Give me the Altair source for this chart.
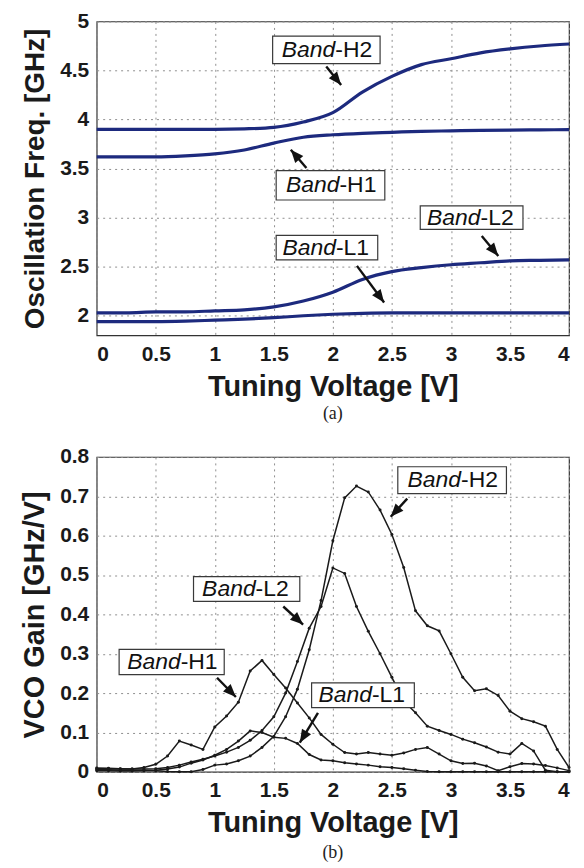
import math
import altair as alt
import pandas as pd

# ---------------- data: (a) oscillation frequency ----------------
voltage_a = [0.0, 0.25, 0.5, 0.75, 1.0, 1.25, 1.5, 1.75, 2.0, 2.25, 2.5, 2.75, 3.0, 3.25, 3.5, 3.75, 4.0]
freq_h2 = [3.90, 3.90, 3.90, 3.90, 3.90, 3.905, 3.92, 3.975, 4.07, 4.28, 4.44, 4.56, 4.62, 4.68, 4.72, 4.75, 4.77]
freq_h1 = [3.62, 3.62, 3.62, 3.63, 3.65, 3.69, 3.76, 3.82, 3.845, 3.86, 3.87, 3.88, 3.885, 3.89, 3.893, 3.895, 3.897]
freq_l2 = [2.03, 2.03, 2.04, 2.04, 2.05, 2.06, 2.09, 2.15, 2.24, 2.37, 2.45, 2.49, 2.52, 2.54, 2.56, 2.565, 2.57]
freq_l1 = [1.94, 1.94, 1.94, 1.945, 1.955, 1.965, 1.98, 2.00, 2.015, 2.025, 2.03, 2.03, 2.03, 2.03, 2.03, 2.03, 2.03]

# ---------------- data: (b) VCO gain ----------------
voltage_b = [0.0, 0.1, 0.2, 0.3, 0.4, 0.5, 0.6, 0.7, 0.8, 0.9, 1.0, 1.1, 1.2, 1.3, 1.4, 1.5, 1.6, 1.7, 1.8, 1.9,
             2.0, 2.1, 2.2, 2.3, 2.4, 2.5, 2.6, 2.7, 2.8, 2.9, 3.0, 3.1, 3.2, 3.3, 3.4, 3.5, 3.6, 3.7, 3.8, 3.9, 4.0]
gain_h1 = [0.008, 0.008, 0.007, 0.007, 0.011, 0.019, 0.040, 0.078, 0.068, 0.057, 0.114, 0.142, 0.177, 0.256, 0.283,
           0.247, 0.213, 0.175, 0.137, 0.095, 0.070, 0.049, 0.045, 0.049, 0.045, 0.042, 0.048, 0.057, 0.062, 0.045,
           0.028, 0.021, 0.022, 0.015, 0.003, 0.013, 0.021, 0.020, 0.016, 0.010, 0.003]
gain_l1 = [0.003, 0.003, 0.002, 0.002, 0.003, 0.004, 0.007, 0.012, 0.022, 0.030, 0.042, 0.057, 0.078, 0.104, 0.100,
           0.088, 0.085, 0.072, 0.044, 0.030, 0.028, 0.023, 0.020, 0.017, 0.013, 0.011, 0.008, 0.004, 0.001, 0.0,
           0.0, 0.0, 0.0, 0.0, 0.0, 0.0, 0.0, 0.0, 0.0, 0.0, 0.0]
gain_l2 = [0.010, 0.009, 0.008, 0.007, 0.007, 0.008, 0.011, 0.017, 0.025, 0.032, 0.040, 0.050, 0.062, 0.080, 0.105,
           0.140, 0.200, 0.280, 0.365, 0.420, 0.518, 0.504, 0.420, 0.357, 0.300, 0.240, 0.180, 0.150, 0.116, 0.105,
           0.095, 0.083, 0.074, 0.063, 0.050, 0.045, 0.072, 0.053, 0.004, 0.0, 0.0]
gain_h2 = [0.005, 0.005, 0.004, 0.004, 0.004, 0.003, 0.001, 0.0, 0.0, 0.006, 0.017, 0.020, 0.028, 0.040, 0.062,
           0.090, 0.140, 0.210, 0.310, 0.435, 0.587, 0.696, 0.726, 0.711, 0.665, 0.603, 0.519, 0.409, 0.371, 0.358,
           0.300, 0.240, 0.206, 0.211, 0.194, 0.154, 0.135, 0.127, 0.116, 0.057, 0.011]

# ---------------- ticks ----------------
x_ticks = [0, 0.5, 1, 1.5, 2, 2.5, 3, 3.5, 4]
ya_ticks = [2, 2.5, 3, 3.5, 4, 4.5, 5]
yb_ticks = [0, 0.1, 0.2, 0.3, 0.4, 0.5, 0.6, 0.7, 0.8]

# ---------------- annotations (data units) ----------------
ann_a_label = ["-H2", "-H1", "-L1", "-L2"]
ann_a_box_x0 = [1.49, 1.52, 1.52, 2.74]
ann_a_box_x1 = [2.40, 2.44, 2.38, 3.61]
ann_a_box_y0 = [4.57, 3.18, 2.57, 2.88]
ann_a_box_y1 = [4.85, 3.48, 2.82, 3.12]
ann_a_arrow_x0 = [1.944, 1.776, 2.204, 3.261]
ann_a_arrow_y0 = [4.540, 3.507, 2.508, 2.813]
ann_a_arrow_x1 = [2.070, 1.644, 2.434, 3.401]
ann_a_arrow_y1 = [4.353, 3.693, 2.135, 2.610]

ann_b_label = ["-H2", "-L2", "-H1", "-L1"]
ann_b_box_x0 = [2.55, 0.82, 0.19, 1.82]
ann_b_box_x1 = [3.47, 1.72, 1.08, 2.69]
ann_b_box_y0 = [0.707, 0.433, 0.247, 0.163]
ann_b_box_y1 = [0.775, 0.496, 0.311, 0.226]
ann_b_arrow_x0 = [2.630, 1.580, 1.019, 1.874]
ann_b_arrow_y0 = [0.694, 0.420, 0.239, 0.150]
ann_b_arrow_x1 = [2.490, 1.748, 1.179, 1.720]
ann_b_arrow_y1 = [0.648, 0.374, 0.190, 0.074]

# ---------------- layout ----------------
W = 474
HA = 315
HB = 316
X_DOM = [0, 4]
YA_DOM = [1.8, 5]
YB_DOM = [0, 0.8]
FONT = "Liberation Sans"
NAVY = "#1d2a7e"
ARROW_PATH = "M0,0L0.9,2.2L-0.9,2.2Z"


def ann_frame(labels, bx0, bx1, by0, by1, ax0, ay0, ax1, ay1, ydom, h):
    sx = W / (X_DOM[1] - X_DOM[0])
    sy = h / (ydom[1] - ydom[0])
    rows = []
    for i, lab in enumerate(labels):
        dxp = (ax1[i] - ax0[i]) * sx
        dyp = -(ay1[i] - ay0[i]) * sy
        ang = math.degrees(math.atan2(dxp, -dyp)) % 360
        rows.append(dict(label=lab, bx0=bx0[i], bx1=bx1[i], by0=by0[i], by1=by1[i],
                         tx=(bx0[i] + bx1[i]) / 2, ty=(by0[i] + by1[i]) / 2,
                         ax0=ax0[i], ay0=ay0[i], ax1=ax1[i], ay1=ay1[i], ang=ang))
    return pd.DataFrame(rows)


def ann_layers(df, xs, ys, xax, yax):
    base = alt.Chart(df)
    X = lambda f: alt.X(f, scale=xs, axis=xax)
    Y = lambda f: alt.Y(f, scale=ys, axis=yax)
    box = base.mark_rect(fill="white", stroke="#3a3a3a", strokeWidth=1.2).encode(
        x=X("bx0:Q"), x2="bx1:Q", y=Y("by0:Q"), y2="by1:Q")
    t1 = base.mark_text(text="Band", align="right", baseline="middle", dx=9, font=FONT,
                        fontStyle="italic", fontSize=23, color="#111").encode(
        x=X("tx:Q"), y=Y("ty:Q"))
    t2 = base.mark_text(align="left", baseline="middle", dx=9, font=FONT,
                        fontSize=23, color="#111").encode(
        x=X("tx:Q"), y=Y("ty:Q"), text="label:N")
    shaft = base.mark_rule(color="#111", strokeWidth=2.4).encode(
        x=X("ax0:Q"), y=Y("ay0:Q"), x2="ax1:Q", y2="ay1:Q")
    head = base.mark_point(shape=ARROW_PATH, filled=True, color="#111", opacity=1, size=140).encode(
        x=X("ax1:Q"), y=Y("ay1:Q"), angle=alt.Angle("ang:Q", scale=None))
    return [box, t1, t2, shaft, head]


xs = alt.Scale(domain=X_DOM, nice=False, zero=False)
ysa = alt.Scale(domain=YA_DOM, nice=False, zero=False)
ysb = alt.Scale(domain=YB_DOM, nice=False, zero=False)

x_axis = alt.Axis(values=x_ticks, format="~g", title="Tuning Voltage [V]", labelOverlap=False)
ya_axis = alt.Axis(values=ya_ticks, format="~g", labelOverlap=False,
                   title="Oscillation Freq. [GHz]", titleFontSize=28)
yb_axis = alt.Axis(values=yb_ticks, title="VCO Gain [GHz/V]", titleFontSize=29, labelOverlap=False,
                   labelExpr="datum.value == 0 ? '0' : format(datum.value, '.1f')")

# ----- chart (a) -----
df_a = pd.DataFrame({
    "v": voltage_a * 4,
    "f": freq_h2 + freq_h1 + freq_l2 + freq_l1,
    "band": ["H2"] * len(voltage_a) + ["H1"] * len(voltage_a) + ["L2"] * len(voltage_a) + ["L1"] * len(voltage_a),
})
lines_a = alt.Chart(df_a).mark_line(interpolate="monotone", color=NAVY, strokeWidth=3.2).encode(
    x=alt.X("v:Q", scale=xs, axis=x_axis),
    y=alt.Y("f:Q", scale=ysa, axis=ya_axis),
    detail="band:N",
)
ann_a = ann_frame(ann_a_label, ann_a_box_x0, ann_a_box_x1, ann_a_box_y0, ann_a_box_y1,
                  ann_a_arrow_x0, ann_a_arrow_y0, ann_a_arrow_x1, ann_a_arrow_y1, YA_DOM, HA)
chart_a = alt.layer(lines_a, *ann_layers(ann_a, xs, ysa, x_axis, ya_axis)).properties(
    width=W, height=HA,
    title=alt.TitleParams("(a)", orient="bottom", font="Liberation Serif", fontSize=18,
                          fontWeight="normal", anchor="middle", offset=4, color="#222"),
)

# ----- chart (b) -----
n = len(voltage_b)
df_b = pd.DataFrame({
    "v": voltage_b * 4,
    "g": gain_h1 + gain_l1 + gain_l2 + gain_h2,
    "band": ["H1"] * n + ["L1"] * n + ["L2"] * n + ["H2"] * n,
})
lines_b = alt.Chart(df_b).mark_line(
    color="#1a1a1a", strokeWidth=1.5,
    point=alt.OverlayMarkDef(filled=True, size=9, color="#1a1a1a"),
).encode(
    x=alt.X("v:Q", scale=xs, axis=x_axis),
    y=alt.Y("g:Q", scale=ysb, axis=yb_axis),
    detail="band:N",
)
ann_b = ann_frame(ann_b_label, ann_b_box_x0, ann_b_box_x1, ann_b_box_y0, ann_b_box_y1,
                  ann_b_arrow_x0, ann_b_arrow_y0, ann_b_arrow_x1, ann_b_arrow_y1, YB_DOM, HB)
chart_b = alt.layer(lines_b, *ann_layers(ann_b, xs, ysb, x_axis, yb_axis)).properties(
    width=W, height=HB,
    title=alt.TitleParams("(b)", orient="bottom", font="Liberation Serif", fontSize=18,
                          fontWeight="normal", anchor="middle", offset=6, color="#222"),
)

chart = alt.vconcat(chart_a, chart_b, spacing=21).properties(
    padding={"left": 12, "top": 0, "right": 0, "bottom": 0}
).configure_view(
    stroke="#333", strokeWidth=1.2
).configure_axis(
    labelFont=FONT, labelFontWeight="bold", labelFontSize=21, labelColor="#1a1a1a", labelPadding=8,
    titleFont=FONT, titleFontWeight="bold", titleFontSize=29, titleColor="#1a1a1a",
    grid=True, gridDash=[2, 4], gridColor="#8f8f8f", gridWidth=1,
    ticks=False, domain=False,
).configure_axisY(
    titlePadding=10,
).configure_axisX(
    titlePadding=8,
)

chart.save("out.html", embed_options={"renderer": "svg", "actions": False})
